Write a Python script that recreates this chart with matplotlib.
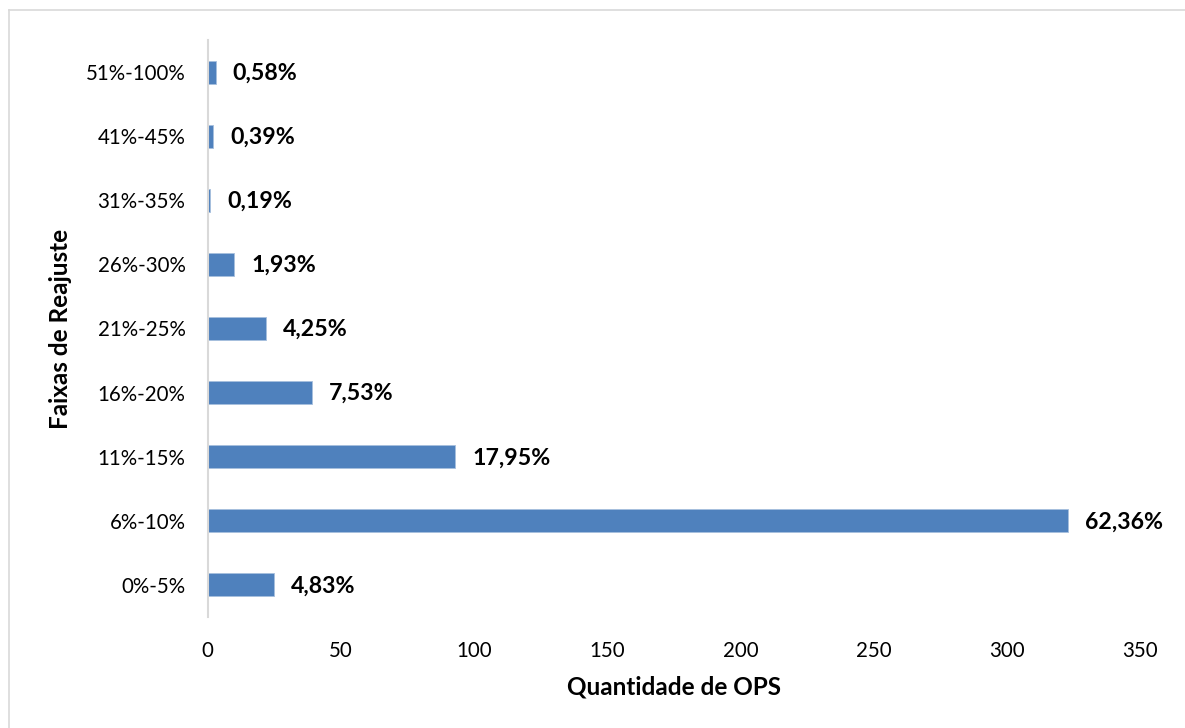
import matplotlib
matplotlib.use("Agg")
import matplotlib.pyplot as plt
from matplotlib.lines import Line2D

plt.rcParams['font.family'] = ['Lato', 'DejaVu Sans']

# Reajuste ranges and number of OPS in each range
categories = ["0%-5%", "6%-10%", "11%-15%", "16%-20%", "21%-25%",
              "26%-30%", "31%-35%", "41%-45%", "51%-100%"]
counts = [25, 323, 93, 39, 22, 10, 1, 2, 3]
xticks = [0, 50, 100, 150, 200, 250, 300, 350]

total = sum(counts)
pct_labels = [f"{c / total * 100:.2f}%".replace(".", ",") for c in counts]

W, H, DPI = 1185, 728, 100
fig = plt.figure(figsize=(W / DPI, H / DPI), dpi=DPI)
ax = fig.add_axes([207.7 / W, 1 - 617 / H, (1140 - 207.7) / W, (617 - 40) / H])

ypos = list(range(len(categories)))
bars = ax.barh(ypos, counts, height=0.36, color="#4F81BD",
               edgecolor="#A7BFDE", linewidth=0.6)

for b, lab in zip(bars, pct_labels):
    ax.annotate(lab, xy=(b.get_width(), b.get_y() + b.get_height() / 2),
                xytext=(17, -1), textcoords="offset pixels",
                ha="left", va="center", fontsize=16.7, fontweight="bold",
                color="#000000")

ax.set_xlim(0, 350)
ax.set_ylim(-0.5, len(categories) - 0.5)
ax.set_xticks(xticks)
ax.set_xticklabels([str(t) for t in xticks], fontsize=14.8)
ax.set_yticks(ypos)
ax.set_yticklabels(categories, fontsize=14.8)
ax.tick_params(axis="both", length=0, colors="#000000")
ax.tick_params(axis="x", pad=17)
ax.tick_params(axis="y", pad=16)

for side in ("top", "right", "bottom"):
    ax.spines[side].set_visible(False)
ax.spines["left"].set_color("#D9D9D9")
ax.spines["left"].set_linewidth(1.5)

ax.set_xlabel("Quantidade de OPS", fontsize=17.5, fontweight="bold", labelpad=11)
ax.set_ylabel("Faixas de Reajuste", fontsize=17.5, fontweight="bold", labelpad=10)

# chart-area frame (top and left edges fall inside the canvas)
fig.add_artist(Line2D([9 / W, 9 / W], [1 - 10 / H, 0], transform=fig.transFigure,
                      color="#D9D9D9", linewidth=1.2))
fig.add_artist(Line2D([9 / W, 1], [1 - 10 / H, 1 - 10 / H], transform=fig.transFigure,
                      color="#D9D9D9", linewidth=1.2))

fig.savefig("out.png", dpi=DPI)
